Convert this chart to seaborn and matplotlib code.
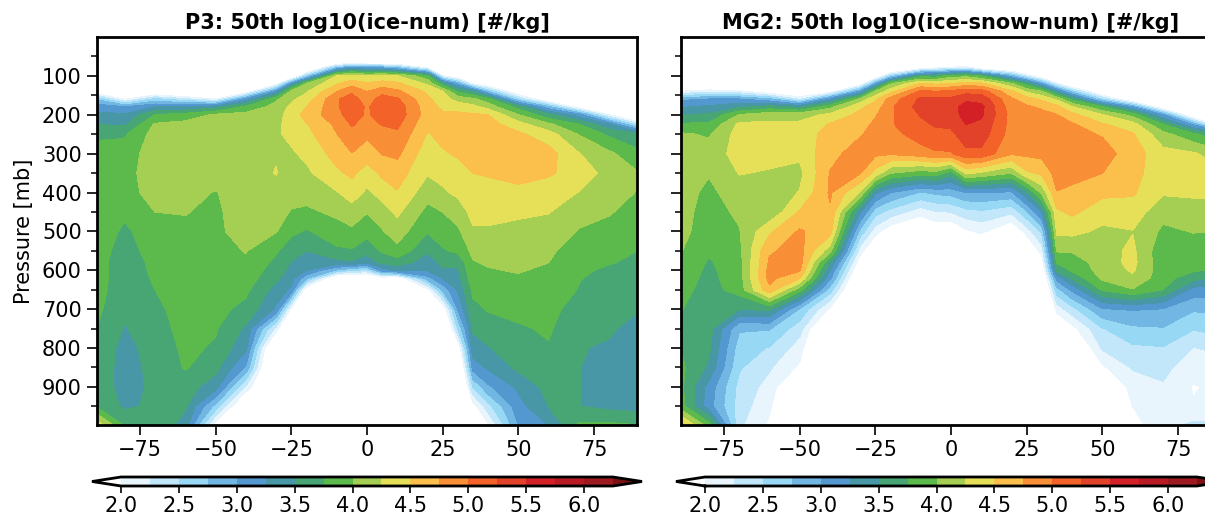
import numpy as np
import seaborn as sns
import matplotlib.pyplot as plt
from matplotlib.colors import ListedColormap, BoundaryNorm

sns.set_theme(style='ticks', font='DejaVu Sans')
plt.rcParams.update({'text.color': 'black', 'axes.labelcolor': 'black', 'xtick.color': 'black', 'ytick.color': 'black'})

W, H = 1205, 517

bands = ['#e9f5fd', '#c2e7fa', '#97d8f5', '#72b6e3', '#5498d0', '#4897a6', '#48a574', '#5cb94b', '#a5cf52',
         '#e6e058', '#fbc04c', '#f88f36', '#f36228', '#e2412a', '#d32027', '#b91b25', '#9e1a20']
levels = [2.0, 2.25, 2.5, 2.75, 3.0, 3.25, 3.5, 3.75, 4.0, 4.25, 4.5, 4.75, 5.0, 5.25, 5.5, 5.75, 6.0, 6.25]
cbar_ticks = [2.0, 2.5, 3.0, 3.5, 4.0, 4.5, 5.0, 5.5, 6.0]
lat_ticks = [-75, -50, -25, 0, 25, 50, 75]
p_ticks = [100, 200, 300, 400, 500, 600, 700, 800, 900]
p_minor = [50, 150, 250, 350, 450, 550, 650, 750, 850, 950]

lat = [-89.2, -80, -70, -60, -50, -40, -30, -25, -20, -10, -5, 0, 5, 10, 20, 25, 30, 35, 40, 50, 60, 70, 80, 89.2]
pres = [60, 80, 100, 120, 140, 160, 180, 200, 225, 250, 300, 350, 400, 450, 500, 550, 580, 600, 620, 650,
        700, 750, 800, 850, 900, 950, 998]

# one row per latitude
p3_num = [
    [1, 1, 1, 1, 1.7, 2.7, 3.15, 3.3, 3.5, 3.7, 3.85, 3.9, 3.9, 3.9, 3.9, 3.85, 3.85, 3.85, 3.85, 3.85, 3.8, 3.74, 3.65, 3.65, 3.65, 3.7, 4.4],
    [1, 1, 1, 1, 1.5, 1.95, 3.0, 3.28, 3.45, 3.72, 3.85, 3.9, 3.9, 3.8, 3.7, 3.65, 3.6, 3.6, 3.6, 3.58, 3.55, 3.48, 3.42, 3.4, 3.4, 3.45, 3.7],
    [1, 1, 1, 1, 1.5, 2.55, 3.25, 3.75, 4.03, 4.1, 4.15, 4.15, 4.1, 4.0, 3.9, 3.85, 3.82, 3.8, 3.78, 3.75, 3.7, 3.65, 3.6, 3.57, 3.55, 3.55, 3.7],
    [1, 1, 1, 1, 1.3, 2.3, 3.25, 3.85, 4.08, 4.12, 4.15, 4.15, 4.1, 4.01, 3.95, 3.9, 3.9, 3.88, 3.88, 3.85, 3.84, 3.83, 3.8, 3.77, 3.62, 3.53, 3.38],
    [1, 1, 1, 1, 1.3, 2.0, 3.4, 4.03, 4.1, 4.15, 4.2, 4.2, 3.98, 3.95, 3.95, 3.92, 3.92, 3.9, 3.9, 3.88, 3.82, 3.77, 3.72, 3.58, 3.35, 2.65, 1.85],
    [1, 1, 1, 1.2, 1.7, 3.1, 3.8, 4.08, 4.12, 4.15, 4.18, 4.2, 4.2, 4.15, 4.1, 4.01, 3.97, 3.92, 3.88, 3.8, 3.68, 3.45, 3.3, 2.95, 2.2, 1.4, 1.2],
    [1, 1, 1.2, 1.8, 3.1, 3.95, 4.1, 4.15, 4.2, 4.22, 4.24, 4.255, 4.2, 4.1, 4.01, 3.78, 3.68, 3.62, 3.55, 3.4, 3.2, 2.15, 1.2, 1, 1, 1, 1],
    [1, 1, 1.3, 3.1, 4.05, 4.2, 4.3, 4.35, 4.33, 4.3, 4.22, 4.18, 4.1, 3.98, 3.8, 3.6, 3.48, 3.42, 3.35, 3.2, 1.9, 1.1, 1, 1, 1, 1, 1],
    [1, 1.2, 2.5, 4.0, 4.22, 4.35, 4.5, 4.6, 4.48, 4.42, 4.3, 4.2, 4.1, 3.95, 3.72, 3.5, 3.35, 3.25, 2.8, 1.7, 1.1, 1, 1, 1, 1, 1, 1],
    [1.1, 2.8, 4.25, 4.47, 4.74, 4.97, 4.95, 4.9, 4.8, 4.74, 4.6, 4.45, 4.23, 4.05, 3.9, 3.7, 3.42, 2.7, 1.5, 1, 1, 1, 1, 1, 1, 1, 1],
    [1, 3.2, 4.3, 4.65, 4.95, 5.12, 5.2, 5.15, 5.02, 4.93, 4.74, 4.55, 4.37, 4.14, 3.95, 3.72, 3.45, 2.5, 1.5, 1, 1, 1, 1, 1, 1, 1, 1],
    [1, 3.0, 4.25, 4.52, 4.74, 4.85, 4.95, 4.95, 4.9, 4.8, 4.62, 4.38, 4.2, 4.01, 3.83, 3.6, 3.3, 2.4, 1.5, 1, 1, 1, 1, 1, 1, 1, 1],
    [1, 3.0, 4.3, 4.6, 4.9, 5.12, 5.2, 5.15, 5.01, 4.9, 4.76, 4.55, 4.35, 4.12, 3.98, 3.78, 3.55, 3.1, 1.8, 1, 1, 1, 1, 1, 1, 1, 1],
    [1, 2.8, 4.25, 4.55, 4.8, 5.03, 5.15, 5.15, 5.05, 4.95, 4.8, 4.62, 4.48, 4.3, 4.12, 3.92, 3.62, 3.3, 1.7, 1, 1, 1, 1, 1, 1, 1, 1],
    [1, 2, 3.8, 4.2, 4.45, 4.55, 4.6, 4.62, 4.55, 4.48, 4.35, 4.27, 4.1, 3.92, 3.77, 3.52, 3.38, 3.27, 2.9, 1.9, 1.1, 1, 1, 1, 1, 1, 1],
    [1, 1, 2, 3.55, 4.25, 4.35, 4.45, 4.53, 4.58, 4.57, 4.47, 4.33, 4.21, 4.0, 3.87, 3.72, 3.55, 3.47, 3.25, 2.8, 1.7, 1.1, 1, 1, 1, 1, 1],
    [1, 1, 1.6, 2.9, 3.7, 4.15, 4.4, 4.55, 4.6, 4.62, 4.53, 4.4, 4.3, 4.12, 3.95, 3.8, 3.55, 3.47, 3.4, 3.28, 3.0, 2.5, 1.7, 1.2, 1, 1, 1],
    [1, 1, 1.4, 1.95, 3.45, 4.05, 4.32, 4.53, 4.6, 4.65, 4.63, 4.5, 4.4, 4.32, 4.22, 4.06, 3.98, 3.95, 3.9, 3.8, 3.68, 3.53, 3.4, 3.1, 2.5, 1.85, 1.3],
    [1, 1, 1.2, 1.6, 2.7, 3.85, 4.15, 4.5, 4.6, 4.65, 4.65, 4.52, 4.42, 4.32, 4.22, 4.1, 4.03, 3.98, 3.93, 3.88, 3.77, 3.62, 3.48, 3.29, 2.95, 2.4, 1.95],
    [1, 1, 1, 1.1, 1.6, 2.5, 3.65, 4.0, 4.35, 4.55, 4.65, 4.58, 4.44, 4.28, 4.2, 4.12, 4.05, 4.02, 3.97, 3.92, 3.82, 3.72, 3.65, 3.55, 3.3, 3.15, 3.0],
    [1, 1, 1, 1, 1, 1.6, 2.8, 3.55, 4.05, 4.35, 4.6, 4.53, 4.38, 4.26, 4.15, 4.05, 4.0, 3.95, 3.9, 3.86, 3.82, 3.78, 3.73, 3.65, 3.58, 3.5, 3.25],
    [1, 1, 1, 1, 1, 1, 1.8, 3.1, 3.75, 3.98, 4.26, 4.4, 4.24, 4.1, 3.98, 3.85, 3.8, 3.78, 3.76, 3.74, 3.65, 3.56, 3.51, 3.505, 3.505, 3.505, 3.78],
    [1, 1, 1, 1, 1, 1, 1.2, 2, 3.28, 3.7, 4.05, 4.15, 4.1, 4.02, 3.92, 3.82, 3.76, 3.72, 3.68, 3.62, 3.55, 3.52, 3.48, 3.42, 3.4, 3.42, 3.8],
    [1, 1, 1, 1, 1, 1, 1, 1, 2.4, 3.55, 3.82, 4.02, 3.99, 3.9, 3.82, 3.75, 3.72, 3.65, 3.6, 3.57, 3.51, 3.45, 3.4, 3.38, 3.37, 3.4, 3.75],
]

mg2_num = [
    [1, 1, 1, 1.2, 2, 2.95, 3.22, 3.5, 3.78, 4.03, 4.08, 4.1, 4.12, 4.1, 4.08, 4.01, 3.95, 3.9, 3.87, 3.83, 3.76, 3.7, 3.74, 3.8, 3.8, 3.85, 4.6],
    [1, 1, 1, 1.5, 2.1, 3.0, 3.3, 3.52, 3.8, 3.97, 4.1, 4.02, 3.93, 3.88, 3.85, 3.78, 3.72, 3.7, 3.68, 3.65, 3.6, 3.6, 3.55, 3.45, 3.15, 3.1, 3.85],
    [1, 1, 1, 1.5, 2.05, 3.0, 3.45, 4.0, 4.3, 4.35, 4.35, 4.26, 4.15, 4.05, 3.98, 3.93, 3.9, 3.88, 3.88, 3.85, 3.5, 2.78, 2.62, 2.53, 2.42, 2.38, 2.3],
    [1, 1, 1, 1.3, 1.7, 2.8, 3.6, 4.15, 4.3, 4.35, 4.32, 4.23, 4.12, 4.04, 4.45, 4.72, 4.78, 4.82, 4.83, 4.68, 3.55, 2.77, 2.48, 2.28, 2.15, 2.05, 1.95],
    [1, 1, 1, 1.2, 1.5, 2.2, 3.45, 4.15, 4.3, 4.35, 4.3, 4.18, 4.26, 4.52, 4.78, 4.84, 4.86, 4.78, 4.5, 3.85, 2.72, 2.35, 2.12, 1.95, 1.5, 1.2, 1],
    [1, 1, 1, 1.3, 1.8, 3.15, 3.92, 4.3, 4.52, 4.6, 4.68, 4.76, 4.78, 4.72, 4.6, 4.1, 3.5, 3.25, 3.05, 2.62, 1.95, 1.3, 1.1, 1, 1, 1, 1],
    [1, 1, 1, 1.7, 3, 4.05, 4.45, 4.57, 4.65, 4.73, 4.85, 4.76, 4.22, 3.28, 2.65, 2.1, 1.8, 1.6, 1.4, 1.2, 1, 1, 1, 1, 1, 1, 1],
    [1, 1, 1.5, 2.9, 4.0, 4.45, 4.6, 4.72, 4.8, 4.82, 4.8, 4.4, 3.3, 2.6, 2.1, 1.6, 1.3, 1.15, 1, 1, 1, 1, 1, 1, 1, 1, 1],
    [1, 1.2, 2.5, 3.95, 4.4, 4.85, 4.95, 4.95, 4.97, 4.9, 4.78, 4.0, 3.0, 2.4, 1.8, 1.4, 1.2, 1.1, 1, 1, 1, 1, 1, 1, 1, 1, 1],
    [1, 1.8, 3.6, 4.52, 5.05, 5.3, 5.35, 5.27, 5.18, 5.12, 4.88, 3.85, 2.72, 2.1, 1.6, 1.3, 1.1, 1, 1, 1, 1, 1, 1, 1, 1, 1, 1],
    [1, 2, 3.6, 4.45, 5.0, 5.3, 5.38, 5.35, 5.28, 5.17, 4.97, 3.9, 2.8, 2.23, 1.75, 1.3, 1.1, 1, 1, 1, 1, 1, 1, 1, 1, 1, 1],
    [1, 2.1, 3.85, 4.5, 5.05, 5.3, 5.4, 5.4, 5.3, 5.18, 4.97, 3.6, 2.85, 2.25, 1.7, 1.3, 1.1, 1, 1, 1, 1, 1, 1, 1, 1, 1, 1],
    [1, 2.2, 3.9, 4.6, 5.15, 5.45, 5.6, 5.58, 5.5, 5.4, 5.18, 4.3, 3.0, 2.4, 1.95, 1.5, 1.2, 1.05, 1, 1, 1, 1, 1, 1, 1, 1, 1],
    [1, 1.7, 3.7, 4.55, 5.12, 5.42, 5.56, 5.54, 5.44, 5.38, 5.18, 4.2, 3.0, 2.45, 2.05, 1.6, 1.3, 1.1, 1, 1, 1, 1, 1, 1, 1, 1, 1],
    [1, 1.4, 2.8, 4.03, 4.55, 4.78, 4.85, 4.9, 4.9, 4.88, 4.77, 4.0, 2.95, 2.3, 1.7, 1.3, 1.15, 1.05, 1, 1, 1, 1, 1, 1, 1, 1, 1],
    [1, 1.1, 2.2, 3.6, 4.2, 4.62, 4.78, 4.85, 4.88, 4.88, 4.8, 4.45, 3.45, 2.7, 2.1, 1.6, 1.3, 1.15, 1, 1, 1, 1, 1, 1, 1, 1, 1],
    [1, 1, 1.6, 2.95, 4.0, 4.45, 4.72, 4.8, 4.87, 4.88, 4.82, 4.55, 4.05, 3.25, 2.55, 2.1, 1.8, 1.6, 1.4, 1.2, 1, 1, 1, 1, 1, 1, 1],
    [1, 1, 1, 2.05, 3.3, 4.2, 4.57, 4.75, 4.82, 4.85, 4.87, 4.85, 4.74, 4.45, 4.3, 4.02, 3.77, 3.58, 3.1, 2.65, 2.1, 1.6, 1.3, 1.1, 1, 1, 1],
    [1, 1, 1, 1.4, 2.6, 3.65, 4.27, 4.57, 4.78, 4.82, 4.85, 4.82, 4.7, 4.55, 4.32, 4.02, 3.85, 3.78, 3.55, 3.05, 2.4, 1.9, 1.5, 1.2, 1, 1, 1],
    [1, 1, 1, 1, 1.5, 2.5, 3.75, 4.25, 4.53, 4.73, 4.85, 4.75, 4.56, 4.35, 4.2, 4.15, 4.12, 4.1, 4.05, 3.78, 2.97, 2.48, 2.28, 1.95, 1.5, 1.2, 1.05],
    [1, 1, 1, 1, 1, 1.5, 3.0, 3.9, 4.35, 4.52, 4.63, 4.58, 4.53, 4.38, 4.24, 4.3, 4.32, 4.28, 4.2, 3.98, 3.02, 2.7, 2.45, 2.27, 2.12, 2.0, 1.9],
    [1, 1, 1, 1, 1, 1, 1.6, 3.0, 3.75, 4.08, 4.33, 4.35, 4.28, 4.08, 3.95, 3.82, 3.82, 3.85, 3.85, 3.75, 2.98, 2.73, 2.48, 2.32, 2.22, 2.1, 2.15],
    [1, 1, 1, 1, 1, 1, 1, 1.5, 2.95, 3.8, 4.28, 4.4, 4.3, 4.12, 4.01, 3.88, 3.82, 3.78, 3.6, 3.15, 2.78, 2.52, 2.24, 2.1, 1.98, 2.02, 2.3],
    [1, 1, 1, 1, 1, 1, 1, 1, 1.7, 3.5, 4.1, 4.3, 4.3, 4.15, 4.0, 3.88, 3.8, 3.7, 3.4, 3.1, 2.8, 2.6, 2.3, 2.15, 2.05, 2.05, 2.3],
]

titles = ['P3: 50th log10(ice-num) [#/kg]', 'MG2: 50th log10(ice-snow-num) [#/kg]']

cmap = ListedColormap(sns.color_palette(bands))
cmap.set_under('white')
cmap.set_over('#7d1216')
norm = BoundaryNorm(levels, cmap.N)


def box(x0, y0, x1, y1):
    return [x0 / W, 1 - y1 / H, (x1 - x0) / W, (y1 - y0) / H]


fig = plt.figure(figsize=(W / 100, H / 100), dpi=100, facecolor='white')
panels = [(97, 637, p3_num), (681, 1221, mg2_num)]

for i, (x0, x1, vals) in enumerate(panels):
    ax = fig.add_axes(box(x0, 37, x1, 425))
    cf = ax.contourf(lat, pres, np.array(vals).T, levels=levels, cmap=cmap, norm=norm, extend='both')
    cf.set_edgecolor('face')
    cf.set_linewidth(0.3)
    ax.set_xlim(-89.2, 89.2)
    ax.set_ylim(998, 0)
    ax.set_xticks(lat_ticks)
    ax.set_yticks(p_ticks)
    ax.set_yticks(p_minor, minor=True)
    ax.tick_params(axis='both', which='major', length=7, width=1.2, labelsize=15, pad=4)
    ax.tick_params(axis='y', which='minor', length=4, width=1.1)
    ax.tick_params(axis='x', which='major', pad=4)
    for s in ax.spines.values():
        s.set_linewidth(2)
        s.set_color('black')
    ax.set_title(titles[i], fontsize=15, fontweight='bold', pad=6)
    if i == 0:
        ax.set_ylabel('Pressure [mb]', fontsize=15, labelpad=6)
    else:
        ax.set_yticklabels([])

    cax = fig.add_axes(box(x0 - 5, 477, x0 + 545, 486))
    cb = fig.colorbar(cf, cax=cax, orientation='horizontal', extend='both', extendfrac=0.059, ticks=cbar_ticks)
    cb.minorticks_off()
    cb.ax.tick_params(length=5, width=1.2, labelsize=15, pad=2)
    cb.ax.set_xticklabels([f'{t:.1f}' for t in cbar_ticks])
    cb.outline.set_linewidth(2)
    cb.outline.set_edgecolor('black')

fig.savefig('out.png', dpi=100)
